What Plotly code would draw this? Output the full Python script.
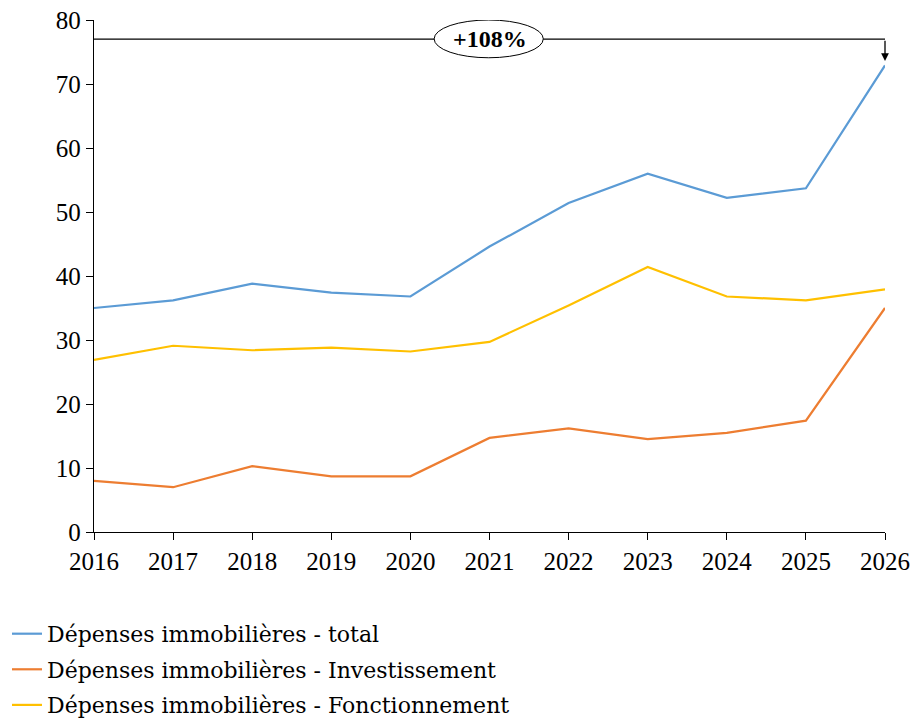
import plotly.graph_objects as go

years = [2016, 2017, 2018, 2019, 2020, 2021, 2022, 2023, 2024, 2025, 2026]
total = [35.0, 36.2, 38.8, 37.4, 36.8, 44.6, 51.4, 56.0, 52.2, 53.7, 72.9]
investissement = [8.0, 7.0, 10.3, 8.7, 8.7, 14.7, 16.2, 14.5, 15.5, 17.4, 35.0]
fonctionnement = [26.9, 29.1, 28.4, 28.8, 28.2, 29.7, 35.4, 41.4, 36.8, 36.2, 37.9]

names = [
    "Dépenses immobilières - total",
    "Dépenses immobilières - Investissement",
    "Dépenses immobilières - Fonctionnement",
]
colors = ["#5B9BD5", "#ED7D31", "#FFC000"]

growth_label = "+108%"

TICK_FONT = "Liberation Serif"
LEGEND_FONT = "DejaVu Serif"

fig = go.Figure()
for i, (name, vals, col) in enumerate(zip(names, [total, investissement, fonctionnement], colors)):
    fig.add_trace(go.Scatter(x=years, y=vals, mode="lines", name=name,
                             legendgroup=f"g{i}",
                             line=dict(color=col, width=2.2)))

# bracket line from the start year to the end year, above the curves
fig.add_shape(type="line", x0=years[0], x1=years[-1], y0=77, y1=77,
              xref="x", yref="y", line=dict(color="black", width=1.3))
# arrow down to the final total value
fig.add_annotation(x=years[-1], y=total[-1] + 0.7, ax=years[-1], ay=77,
                   xref="x", yref="y", axref="x", ayref="y", text="",
                   showarrow=True, arrowhead=2, arrowsize=1.2, arrowwidth=1.3,
                   arrowcolor="black")
# ellipse holding the growth label
fig.add_shape(type="circle", x0=2020.3, x1=2021.68, y0=74.1, y1=80,
              xref="x", yref="y", fillcolor="white",
              line=dict(color="black", width=1))
fig.add_annotation(x=2021, y=77.05, text="<b>" + growth_label + "</b>",
                   showarrow=False, xref="x", yref="y",
                   font=dict(family=TICK_FONT, size=24, color="black"))

fig.update_layout(
    width=912, height=721,
    margin=dict(l=94, r=27, t=20, b=189, autoexpand=False),
    paper_bgcolor="white", plot_bgcolor="white",
    font=dict(family=TICK_FONT, size=25, color="black"),
    showlegend=True,
    legend=dict(orientation="v", x=-0.11, y=-0.158,
                xanchor="left", yanchor="top",
                font=dict(family=LEGEND_FONT, size=22, color="black"),
                bgcolor="rgba(0,0,0,0)", tracegroupgap=4),
)
fig.update_xaxes(range=[2016, 2026], tickvals=years, tickangle=0,
                 ticktext=[str(y) for y in years],
                 showgrid=False, zeroline=False, showline=True,
                 linecolor="black", linewidth=1.3, ticks="outside",
                 ticklen=7, tickcolor="black", tickwidth=1.3, mirror=False)
fig.update_yaxes(range=[0, 80], tickvals=list(range(0, 81, 10)),
                 showgrid=False, zeroline=False, showline=True,
                 linecolor="black", linewidth=1.3, ticks="outside",
                 ticklen=7, tickcolor="black", tickwidth=1.3, mirror=False)

fig.write_html("out.html")
